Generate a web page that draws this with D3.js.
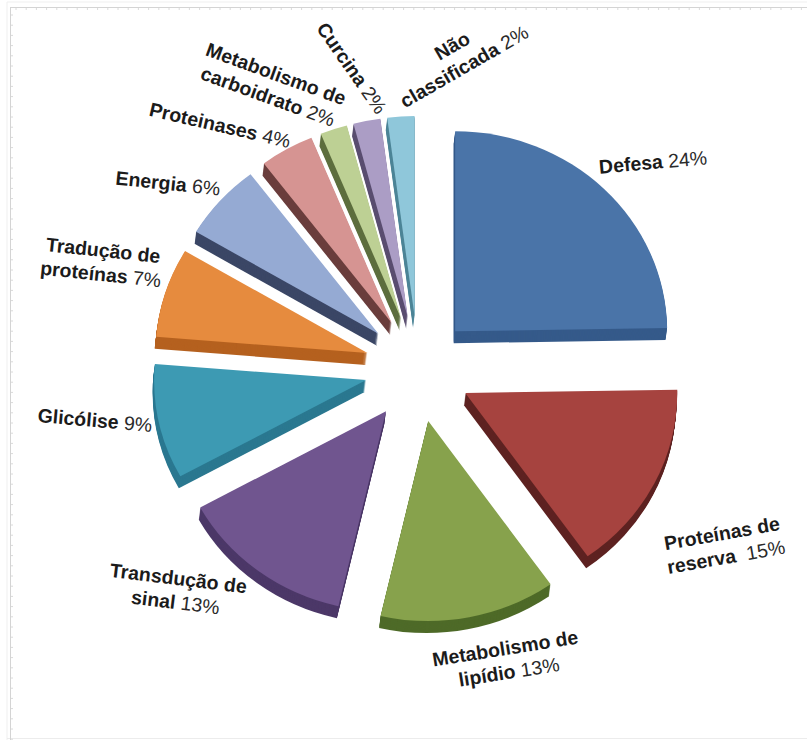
<!DOCTYPE html>
<html>
<head>
<meta charset="utf-8">
<script src="https://cdn.jsdelivr.net/npm/d3@7"></script>
<style>
  html, body { margin: 0; padding: 0; background: #fff; }
  svg { display: block; }
  text { font-family: "Liberation Sans", Arial, sans-serif; fill: #1b1b1b; white-space: pre; }
</style>
</head>
<body>
<svg id="chart" width="807" height="740"></svg>
<script>
// Functional categories of the identified proteins (line breaks marked with \n)
const categories = [
  "Defesa",
  "Proteínas de\nreserva ",
  "Metabolismo de\nlipídio",
  "Transdução de\nsinal",
  "Glicólise",
  "Tradução de\nproteínas",
  "Energia",
  "Proteinases",
  "Metabolismo de\ncarboidrato",
  "Curcina",
  "Não\nclassificada"
];
// Share of each category (%)
const values = [24, 15, 13, 13, 9, 7, 6, 4, 2, 2, 2];

// Slice colours: top face and side face
const topColors  = ["#4a74a8", "#a6433f", "#87a24c", "#70558f", "#3d9ab3", "#e68b3e",
                    "#95aad3", "#d69492", "#bdd094", "#ab9dc5", "#8fc7da"];
const sideColors = ["#355a8a", "#5e2322", "#4e6a28", "#4c3868", "#2b7890", "#b5611f",
                    "#3b4766", "#6a3d3c", "#5d6e3e", "#5a4e70", "#4d8597"];

// Label placement: centre x, centre y, rotation (deg)
const labelLayout = [
  [653, 162, -5], [724, 545, -10], [507, 660, -9], [177, 590, 7],
  [95, 420, 5], [102, 262, 6], [168, 183, 6], [220, 125, 13],
  [272, 85, 20], [352, 68, 55], [458, 56, -30]
];

const svg = d3.select("#chart");

// Frame with fine tick marks
const frame = svg.append("g").attr("class", "frame");
frame.append("line").attr("x1", 7).attr("y1", 2).attr("x2", 807).attr("y2", 2)
  .attr("stroke", "#efefef");
frame.append("line").attr("x1", 7).attr("y1", 2).attr("x2", 7).attr("y2", 740)
  .attr("stroke", "#efefef");
frame.append("line").attr("x1", 7).attr("y1", 738.5).attr("x2", 807).attr("y2", 738.5)
  .attr("stroke", "#ececec");
frame.append("line").attr("x1", 10).attr("y1", 7.5).attr("x2", 807).attr("y2", 7.5)
  .attr("stroke", "#d4d4d4");
frame.append("line").attr("x1", 10.5).attr("y1", 7).attr("x2", 10.5).attr("y2", 740)
  .attr("stroke", "#d4d4d4");
frame.selectAll("line.tx").data(d3.range(16, 807, 10.2)).join("line")
  .attr("class", "tx").attr("x1", d => d).attr("x2", d => d)
  .attr("y1", 8).attr("y2", 10).attr("stroke", "#dadada");
frame.selectAll("line.ty").data(d3.range(15, 740, 10.2)).join("line")
  .attr("class", "ty").attr("y1", d => d).attr("y2", d => d)
  .attr("x1", 11).attr("x2", 13).attr("stroke", "#dadada");

// Pie geometry
const cx = 418, cy = 369;      // common centre
const explode = 53;            // distance each slice is pulled out
const rx = 212, ry = 200;      // tilted (elliptical) top face
const depth = 12, shear = -1.5; // extrusion of the slices

const pie = d3.pie().sort(null).value(d => d).startAngle(0).endAngle(2 * Math.PI);
const arcs = pie(values);
const arc = d3.arc().innerRadius(0).outerRadius(rx);

const slices = arcs.map((a, i) => {
  const mid = (a.startAngle + a.endAngle) / 2;
  return {
    a, i,
    ox: cx + explode * Math.sin(mid),
    oy: cy - explode * Math.cos(mid)
  };
}).sort((p, q) => p.oy - q.oy);

const pieG = svg.append("g").attr("class", "pie");
slices.forEach(s => {
  const g = pieG.append("g").attr("transform", `translate(${s.ox},${s.oy})`);
  const path = arc(s.a);
  // side walls: stacked copies of the slice shifted down
  for (let k = depth; k >= 1; k--) {
    g.append("path")
      .attr("d", path)
      .attr("transform", `translate(${shear * k / depth},${k}) scale(1,${ry / rx})`)
      .attr("fill", sideColors[s.i]);
  }
  // top face
  g.append("path")
    .attr("d", path)
    .attr("transform", `scale(1,${ry / rx})`)
    .attr("fill", topColors[s.i]);
});

// Labels: bold category name followed by the percentage
const lineH = 24;
const labG = svg.append("g").attr("class", "labels");
categories.forEach((name, i) => {
  const [lx, ly, rot] = labelLayout[i];
  const lines = name.split("\n");
  const g = labG.append("g").attr("transform", `translate(${lx},${ly}) rotate(${rot})`);
  lines.forEach((ln, j) => {
    const t = g.append("text")
      .attr("x", 0)
      .attr("y", (j - (lines.length - 1) / 2) * lineH + 7)
      .attr("text-anchor", "middle")
      .style("font-size", "19.5px");
    t.append("tspan").attr("font-weight", "bold").text(ln);
    if (j === lines.length - 1) {
      t.append("tspan").attr("font-weight", "normal").attr("fill", "#2a2a2a")
        .text(" " + values[i] + "%");
    }
  });
});
</script>
</body>
</html>
